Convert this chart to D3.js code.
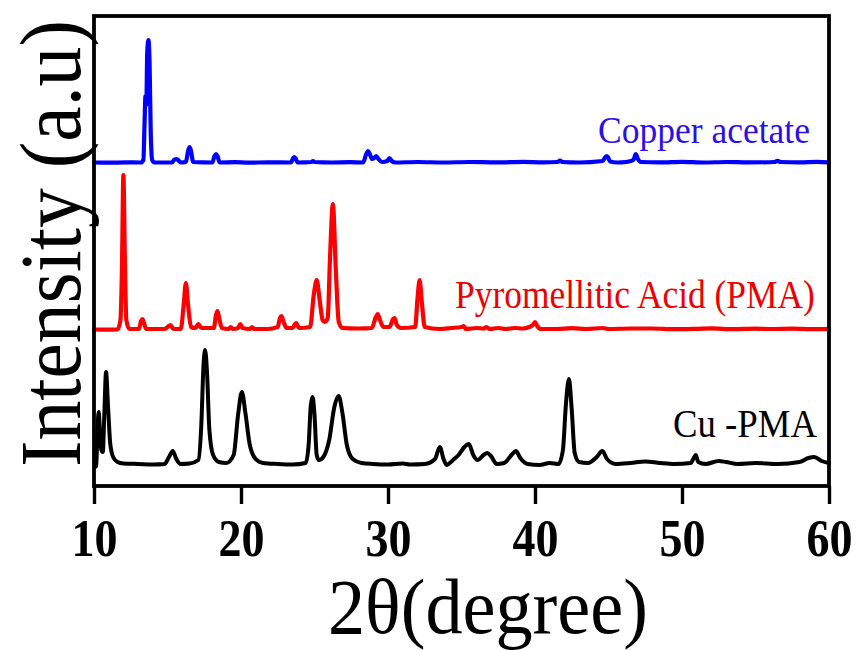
<!DOCTYPE html>
<html>
<head>
<meta charset="utf-8">
<script src="https://cdn.jsdelivr.net/npm/d3@7"></script>
<style>
  html, body { margin: 0; padding: 0; background: #fff; }
  svg { display: block; }
  text { font-family: "Liberation Serif", "Times New Roman", serif; }
</style>
</head>
<body>
<svg id="chart" width="858" height="650"></svg>
<script>
// XRD patterns: 2θ (degree) vs. intensity (a.u.), three stacked traces.

const xTicks = [10, 20, 30, 40, 50, 60];
const seriesNames = ["Copper acetate", "Pyromellitic Acid (PMA)", "Cu -PMA"];
const seriesColors = ["#0000ff", "#ff0000", "#000000"];
const labelColors = ["#2a10e6", "#ee0000", "#000000"];
const stackOffsets = [323, 156, 21];

// Copper acetate: [2θ, intensity]
const copperAcetate = [
  [10.0, 0.5], [11.0, 0.3], [12.2, 0.6], [13.2, 0.5], [13.36, 3], [13.44, 40], [13.5, 67],
  [13.56, 58], [13.62, 110], [13.7, 123], [13.78, 100], [13.86, 30], [13.96, 3],
  [14.1, 0.5], [15.3, 0.5], [15.48, 3.5], [15.6, 4], [15.72, 3], [15.9, 0.5],
  [16.25, 1], [16.4, 12], [16.5, 16], [16.6, 12], [16.75, 1], [18.05, 0.5],
  [18.2, 7], [18.3, 9], [18.4, 7], [18.55, 0.5], [19.6, 0.8], [20.5, 0.3],
  [21.8, 0.7], [23.4, 0.5], [23.55, 5], [23.62, 6], [23.7, 5], [23.85, 0.5],
  [24.8, 1], [24.9, 2], [25.0, 1], [26.2, 0.5], [27.4, 0.8], [28.3, 0.5],
  [28.5, 8], [28.64, 12], [28.76, 9], [28.92, 4], [29.06, 5], [29.2, 7],
  [29.35, 4], [29.6, 1], [29.95, 2], [30.1, 5], [30.25, 2], [30.5, 0.5],
  [32.0, 1], [33.8, 0.5], [35.5, 1], [37.4, 0.6], [39.2, 1.2], [40.5, 0.6],
  [41.55, 1], [41.7, 2.5], [41.85, 1], [43.0, 0.5], [44.6, 2], [44.85, 7],
  [44.96, 6], [45.1, 1.5], [45.6, 0.5], [46.2, 1], [46.7, 3], [46.85, 9],
  [47.0, 4], [47.2, 1], [48.5, 0.6], [50.0, 1.2], [51.5, 0.5], [53.0, 1],
  [54.5, 0.6], [56.3, 1], [56.5, 2.2], [56.7, 1], [58.0, 0.6], [59.2, 1.2], [60.0, 0.6]
];

// Pyromellitic acid (PMA): [2θ, intensity]
const pyromelliticAcid = [
  [10.0, 0.5], [10.8, 0.3], [11.6, 0.5], [11.8, 10], [11.9, 60], [12.0, 155],
  [12.1, 70], [12.2, 10], [12.4, 1], [13.05, 1], [13.2, 9], [13.3, 11], [13.4, 7],
  [13.55, 1], [14.8, 1], [15.2, 5], [15.4, 1], [15.9, 1], [16.1, 25], [16.25, 47],
  [16.4, 25], [16.6, 3], [16.9, 2], [17.1, 6], [17.3, 2], [18.15, 2], [18.3, 15],
  [18.4, 19], [18.5, 13], [18.7, 2], [19.15, 1], [19.3, 3], [19.45, 1], [19.8, 2],
  [19.95, 6], [20.1, 2], [20.6, 1], [20.75, 3], [20.9, 1], [21.8, 1], [22.5, 3],
  [22.65, 12], [22.75, 14], [22.9, 8], [23.1, 2], [23.5, 2], [23.75, 7], [23.95, 2],
  [24.7, 3], [24.95, 35], [25.15, 50], [25.35, 30], [25.55, 10], [25.7, 8],
  [25.9, 12], [26.05, 70], [26.25, 126], [26.45, 60], [26.65, 8], [26.9, 2],
  [28.0, 1.5], [28.9, 2], [29.15, 12], [29.3, 16], [29.45, 10], [29.7, 3],
  [30.1, 3], [30.35, 11], [30.45, 12], [30.6, 5], [30.9, 2], [31.85, 3],
  [32.0, 30], [32.15, 50], [32.3, 28], [32.5, 3], [33.5, 1], [34.3, 2],
  [35.0, 3], [35.15, 4], [35.3, 1], [36.0, 2], [36.5, 1.5], [36.7, 3], [36.9, 1],
  [37.5, 2], [38.0, 1], [38.6, 2], [39.2, 1.5], [39.6, 3], [39.85, 5], [40.0, 8],
  [40.15, 4], [40.4, 1], [41.5, 1], [42.5, 1.8], [43.5, 1], [44.6, 2], [45.0, 1],
  [46.5, 1.5], [48.0, 1.5], [49.5, 0.8], [51.0, 1.2], [52.0, 1.6], [53.5, 0.8],
  [55.0, 1.3], [56.0, 1], [57.5, 1.4], [59.0, 0.8], [60.0, 1]
];

// Cu-PMA: [2θ, intensity]
const cuPMA = [
  [10.05, -2], [10.15, -1], [10.25, 40], [10.32, 53], [10.4, 35], [10.5, 15],
  [10.6, 13], [10.7, 50], [10.82, 93], [10.95, 60], [11.1, 22], [11.3, 8],
  [11.6, 3], [12.0, 1.5], [13.0, 1], [14.0, 0.5], [14.8, 1], [15.1, 8],
  [15.36, 14], [15.6, 6], [15.9, 1], [16.5, 1.5], [17.1, 5], [17.3, 40],
  [17.45, 100], [17.56, 115], [17.68, 95], [17.85, 35], [18.1, 10], [18.5, 3],
  [19.0, 2], [19.5, 10], [19.8, 50], [20.06, 73], [20.3, 52], [20.6, 20],
  [21.0, 6], [21.5, 2], [22.5, 1], [23.5, 0.5], [24.4, 2], [24.6, 20],
  [24.75, 60], [24.87, 68], [25.0, 50], [25.15, 10], [25.3, 5], [25.6, 8],
  [26.0, 25], [26.35, 58], [26.64, 69], [26.9, 52], [27.2, 20], [27.6, 6],
  [28.2, 2], [29.0, 1], [30.0, 0.5], [31.0, 1.5], [31.5, 0.5], [32.5, 1],
  [33.2, 6], [33.52, 18], [33.8, 5], [34.0, 0], [34.2, 2], [34.5, 6], [34.8, 10],
  [35.2, 18], [35.5, 21], [35.8, 10], [36.1, 5], [36.5, 10], [36.75, 12],
  [37.0, 9], [37.4, 1], [37.9, 2], [38.4, 10], [38.7, 14], [39.0, 7], [39.5, 1],
  [40.3, 0], [41.0, 2], [41.6, 1], [41.9, 15], [42.1, 60], [42.31, 86],
  [42.5, 55], [42.7, 12], [43.0, 3], [43.6, 2], [44.2, 8], [44.58, 14],
  [44.9, 6], [45.5, 1], [46.5, 2], [47.5, 3.5], [48.5, 2], [49.5, 1], [50.6, 2],
  [50.8, 7], [50.94, 10], [51.1, 3], [51.6, 1], [52.5, 4], [53.0, 3], [53.8, 1],
  [55.0, 2], [56.5, 1], [58.0, 3], [58.6, 7], [59.0, 8], [59.5, 4], [60.0, 2]
];

const seriesData = [copperAcetate, pyromelliticAcid, cuPMA];
const strokeWidths = [4.2, 4.2, 4];

const svg = d3.select("#chart");
const margin = { top: 16, right: 29, bottom: 164, left: 94 };
const width = 858 - margin.left - margin.right;
const height = 650 - margin.top - margin.bottom;

const x = d3.scaleLinear().domain([10, 60]).range([0, width]);
const y = d3.scaleLinear().domain([0, height]).range([height, 0]);

// Narrow a text horizontally (in its own frame) so it spans `len` pixels.
function condensed(sel, len, prefix) {
  sel.each(function () {
    const natural = this.getComputedTextLength();
    const sx = natural > 0 ? len / natural : 1;
    d3.select(this).attr("transform", `${prefix || ""} scale(${sx},1)`);
  });
}

const g = svg.append("g").attr("transform", `translate(${margin.left},${margin.top})`);

// traces
seriesData.forEach((data, i) => {
  const line = d3.line()
    .x(d => x(d[0]))
    .y(d => y(d[1] + stackOffsets[i]))
    .curve(d3.curveMonotoneX);
  g.append("path")
    .datum(data)
    .attr("fill", "none")
    .attr("stroke", seriesColors[i])
    .attr("stroke-width", strokeWidths[i])
    .attr("stroke-linejoin", "round")
    .attr("stroke-linecap", "round")
    .attr("d", line);
});

// frame
g.append("rect")
  .attr("x", 0).attr("y", 0)
  .attr("width", width).attr("height", height)
  .attr("fill", "none")
  .attr("stroke", "#000")
  .attr("stroke-width", 3.8);

// bottom axis
const xAxis = d3.axisBottom(x).tickValues(xTicks).tickSize(18).tickSizeOuter(0).tickPadding(14);
const ax = g.append("g").attr("transform", `translate(0,${height})`).call(xAxis);
ax.select(".domain").remove();
ax.selectAll(".tick line").attr("stroke", "#000").attr("stroke-width", 3.4);
ax.selectAll(".tick text")
  .attr("fill", "#000")
  .attr("dy", null)
  .attr("y", 70)
  .attr("font-size", 52)
  .attr("font-weight", "bold")
  .style("font-family", "'Liberation Serif', 'Times New Roman', serif")
  .call(condensed, 46);

// axis titles
svg.append("text")
  .attr("font-size", 79)
  .attr("fill", "#000")
  .text("2θ(degree)")
  .call(condensed, 320, "translate(328,633)");

svg.append("text")
  .attr("font-size", 86)
  .attr("fill", "#000")
  .text("Intensity (a.u)")
  .call(condensed, 447, "translate(80,467) rotate(-90)");

// trace labels
const labelPos = [
  { x: 598, y: 143, size: 38, len: 212 },
  { x: 455, y: 308, size: 41, len: 360 },
  { x: 673, y: 437, size: 41, len: 144 }
];
seriesNames.forEach((name, i) => {
  svg.append("text")
    .attr("font-size", labelPos[i].size)
    .attr("fill", labelColors[i])
    .text(name)
    .call(condensed, labelPos[i].len, `translate(${labelPos[i].x},${labelPos[i].y})`);
});
</script>
</body>
</html>
